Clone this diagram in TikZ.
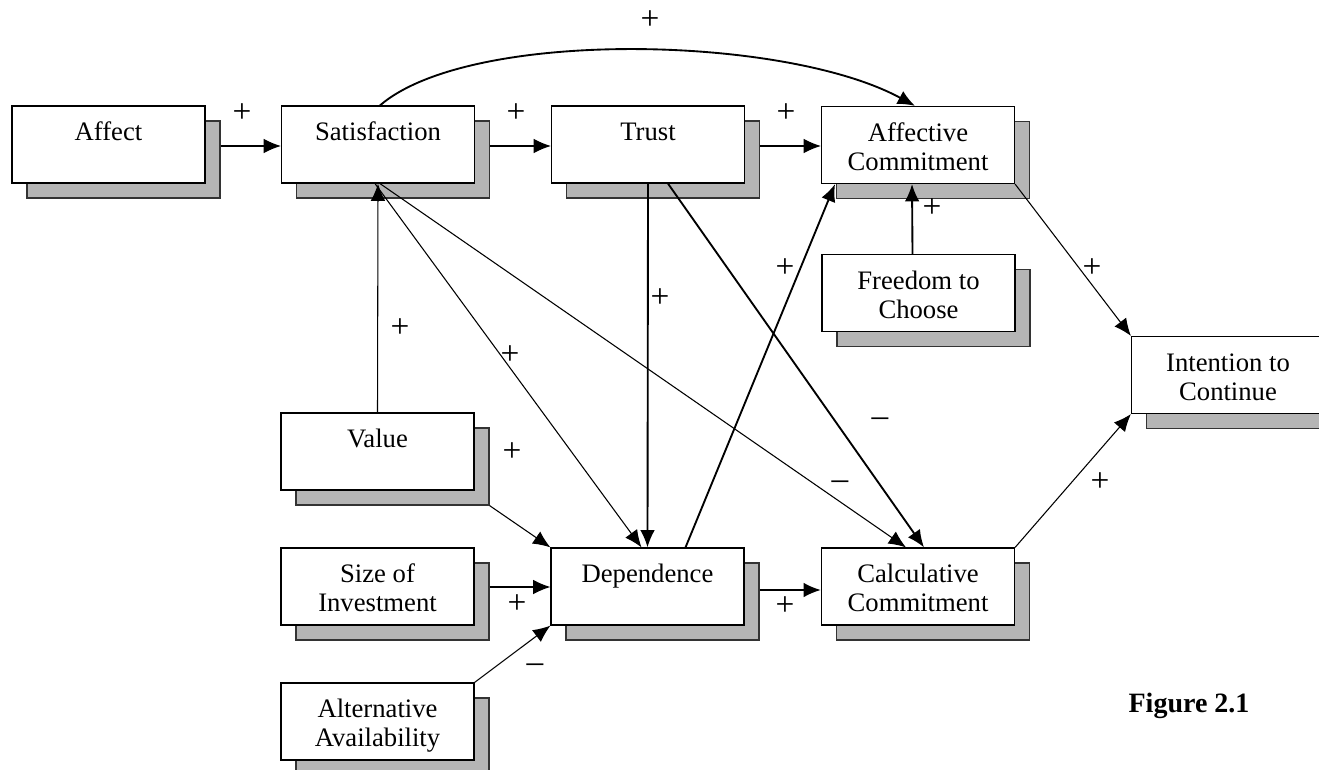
\documentclass[tikz,border=0pt]{standalone}
\usepackage{fontspec}
\setmainfont{Liberation Serif}
\usetikzlibrary{arrows.meta,calc,shadows}
\newcommand{\tp}{\rule{0pt}{23pt}}
\begin{document}
\begin{tikzpicture}[x=0.75pt,y=-0.75pt,
  box/.style={draw=black, line width=0.9pt, fill=white, minimum width=144.75pt,
    minimum height=57.75pt, align=center, inner sep=0pt,
    font=\fontsize{20}{21.75}\selectfont,
    general shadow={shadow xshift=11.25pt, shadow yshift=-11.25pt,
      fill=gray!58, draw=black!80, line width=1pt}},
  conn/.style={line width=0.8pt, -{Latex[length=13pt,width=11pt]}},
  heavy/.style={conn, line width=1.4pt},
  sign/.style={font=\fontsize{25}{27}\selectfont, inner sep=0pt}]
\useasboundingbox (0,0) rectangle (1319,770);

\node[box] (aff) at (108.5,144.5) {\tp Affect\\\strut};
\node[box] (sat) at (378,144.5) {\tp Satisfaction\\\strut};
\node[box] (tru) at (648,144.5) {\tp Trust\\\strut};
\node[box] (afc) at (918,145) {\tp Affective\\\strut Commitment};
\node[box] (fre) at (918.5,293) {\tp Freedom to\\\strut Choose};
\node[box] (int) at (1228,375) {\tp Intention to\\\strut Continue};
\node[box] (val) at (377.5,451.5) {\tp Value\\\strut};
\node[box] (siz) at (377.5,586.5) {\tp Size of\\\strut Investment};
\node[box] (alt) at (377.5,721.5) {\tp Alternative\\\strut Availability};
\node[box] (dep) at (647.5,586.5) {\tp Dependence\\\strut};
\node[box] (cal) at (918,586.5) {\tp Calculative\\\strut Commitment};

\node[font=\fontsize{21}{24}\selectfont\bfseries, inner sep=0pt] (fig) at (1189,706) {Figure 2.1};

% connectors
\draw[conn] ($(aff.east)+(15,1.5)$) -- ($(sat.west)+(0,1.5)$);
\draw[conn] ($(sat.east)+(15,1.5)$) -- ($(tru.west)+(0,1.5)$);
\draw[conn] ($(tru.east)+(15,1.5)$) -- ($(afc.west)+(0,1)$);
\draw[heavy] ($(sat.north)+(2,0)$) .. controls (470,28) and (785,35) .. ($(afc.north)+(-3,0)$);
\draw[conn] (val.north) -- (sat.south);
\draw[conn] ($(sat.south)+(-3,0)$) -- ($(dep.north)+(-6,0)$);
\draw[conn] ($(sat.south)+(2,0)$) -- ($(cal.north)+(-12,0)$);
\draw[heavy] (tru.south) -- (dep.north);
\draw[heavy] ($(tru.south)+(20,0)$) -- ($(cal.north)+(6,0)$);
\draw[heavy] ($(dep.north)+(38,0)$) -- ($(afc.south)+(-83,0)$);
\draw[heavy] ($(fre.north)+(-6,0)$) -- ($(afc.south)+(-6,0)$);
\draw[conn] (afc.south east) -- (int.north west);
\draw[conn] (cal.north east) -- (int.south west);
\draw[conn] ($(val.south east)+(15,15)$) -- (dep.north west);
\draw[conn] ($(siz.east)+(15,0.5)$) -- ($(dep.west)+(0,0.5)$);
\draw[conn] (alt.north east) -- (dep.south west);
\draw[heavy] ($(dep.east)+(15,3.5)$) -- ($(cal.west)+(0,3.5)$);

% signs
\node[sign] (s1) at (242,113) {+};
\node[sign] (s2) at (516,113) {+};
\node[sign] (s3) at (786,113) {+};
\node[sign] (s4) at (650,20) {+};
\node[sign] (s5) at (400,328) {+};
\node[sign] (s6) at (510,355) {+};
\node[sign] (s7) at (660,298) {+};
\node[sign] (s8) at (785,268) {+};
\node[sign] (s9) at (932,208) {+};
\node[sign] (s10) at (1092,268) {+};
\node[sign] (s11) at (512,452) {+};
\node[sign] (s12) at (517,604) {+};
\node[sign] (s13) at (785,606) {+};
\node[sign] (s14) at (1100,482) {+};
\node[sign] (m1) at (535,668) {–};
\node[sign] (m2) at (840,485) {–};
\node[sign] (m3) at (880,422) {–};
\end{tikzpicture}
\end{document}
